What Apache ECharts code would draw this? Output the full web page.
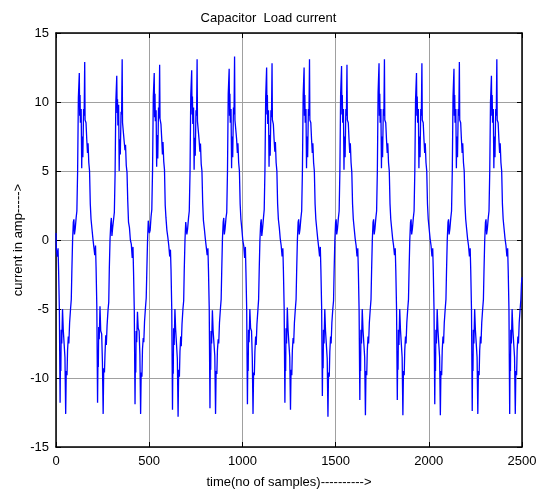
<!DOCTYPE html>
<html>
<head>
<meta charset="utf-8">
<script src="https://cdn.jsdelivr.net/npm/echarts@6/dist/echarts.min.js"></script>
<style>html,body{margin:0;padding:0;background:#fff}#c{width:537px;height:493px}</style>
</head>
<body>
<div id="c"></div>
<script>
const titleText = 'Capacitor  Load current';
const xName = 'time(no of samples)---------->';
const yName = 'current in amp----->';
const xTicks = [0, 500, 1000, 1500, 2000, 2500];
const yTicks = [-15, -10, -5, 0, 5, 10, 15];

// sample index
const sampleNo = [
0,
2,7,11,14,18,22,24,26,28,31,35,39,44,48,52,55,59,62,66,69,73,78,82,85,89,93,96,99,103,108,112,116,120,125,127,129,131,135,138,140,144,148,151,154,156,161,165,169,172,176,180,184,188,193,198,
203,208,212,215,219,223,225,227,229,232,236,240,245,249,253,256,260,263,267,270,274,279,283,286,290,294,297,300,304,309,313,317,321,326,328,330,332,336,339,341,345,349,352,355,357,362,366,370,373,377,381,385,389,394,399,
404,409,413,416,420,424,426,428,430,433,437,441,446,450,454,457,461,464,468,471,475,480,484,487,491,495,498,501,505,510,514,518,522,527,529,531,533,537,540,542,546,550,553,556,558,563,567,571,574,578,582,586,590,595,600,
605,610,614,617,621,625,627,629,631,634,638,642,647,651,655,658,662,665,669,672,676,681,685,688,692,696,699,702,706,711,715,719,723,728,730,732,734,738,741,743,747,751,754,757,759,764,768,772,775,779,783,787,791,796,801,
806,811,815,818,822,826,828,830,832,835,839,843,848,852,856,859,863,866,870,873,877,882,886,889,893,897,900,903,907,912,916,920,924,929,931,933,935,939,942,944,948,952,955,958,960,965,969,973,976,980,984,988,992,997,1002,
1007,1012,1016,1019,1023,1027,1029,1031,1033,1036,1040,1044,1049,1053,1057,1060,1064,1067,1071,1074,1078,1083,1087,1090,1094,1098,1101,1104,1108,1113,1117,1121,1125,1130,1132,1134,1136,1140,1143,1145,1149,1153,1156,1159,1161,1166,1170,1174,1177,1181,1185,1189,1193,1198,1203,
1208,1213,1217,1220,1224,1228,1230,1232,1234,1237,1241,1245,1250,1254,1258,1261,1265,1268,1272,1275,1279,1284,1288,1291,1295,1299,1302,1305,1309,1314,1318,1322,1326,1331,1333,1335,1337,1341,1344,1346,1350,1354,1357,1360,1362,1367,1371,1375,1378,1382,1386,1390,1394,1399,1404,
1409,1414,1418,1421,1425,1429,1431,1433,1435,1438,1442,1446,1451,1455,1459,1462,1466,1469,1473,1476,1480,1485,1489,1492,1496,1500,1503,1506,1510,1515,1519,1523,1527,1532,1534,1536,1538,1542,1545,1547,1551,1555,1558,1561,1563,1568,1572,1576,1579,1583,1587,1591,1595,1600,1605,
1610,1615,1619,1622,1626,1630,1632,1634,1636,1639,1643,1647,1652,1656,1660,1663,1667,1670,1674,1677,1681,1686,1690,1693,1697,1701,1704,1707,1711,1716,1720,1724,1728,1733,1735,1737,1739,1743,1746,1748,1752,1756,1759,1762,1764,1769,1773,1777,1780,1784,1788,1792,1796,1801,1806,
1811,1816,1820,1823,1827,1831,1833,1835,1837,1840,1844,1848,1853,1857,1861,1864,1868,1871,1875,1878,1882,1887,1891,1894,1898,1902,1905,1908,1912,1917,1921,1925,1929,1934,1936,1938,1940,1944,1947,1949,1953,1957,1960,1963,1965,1970,1974,1978,1981,1985,1989,1993,1997,2002,2007,
2012,2017,2021,2024,2028,2032,2034,2036,2038,2041,2045,2049,2054,2058,2062,2065,2069,2072,2076,2079,2083,2088,2092,2095,2099,2103,2106,2109,2113,2118,2122,2126,2130,2135,2137,2139,2141,2145,2148,2150,2154,2158,2161,2164,2166,2171,2175,2179,2182,2186,2190,2194,2198,2203,2208,
2213,2218,2222,2225,2229,2233,2235,2237,2239,2242,2246,2250,2255,2259,2263,2266,2270,2273,2277,2280,2284,2289,2293,2296,2300,2304,2307,2310,2314,2319,2323,2327,2331,2336,2338,2340,2342,2346,2349,2351,2355,2359,2362,2365,2367,2372,2376,2380,2383,2387,2391,2395,2399,2404,2409,
2414,2419,2423,2426,2430,2434,2436,2438,2440,2443,2447,2451,2456,2460,2464,2467,2471,2474,2478,2481,2485,2490,2494,2497,2500
];

// current in amp at each sample
const currentAmp = [
0.5,
-0.7,-1.2,-0.6,-2.2,-5.0,-11.8,-8.5,-9.5,-6.5,-7.5,-5.0,-6.5,-6.5,-8.5,-12.6,-9.5,-9.8,-8.0,-7.0,-7.5,-6.0,-5.0,-4.3,-2.3,0.0,1.3,1.5,0.4,0.8,1.6,2.1,5.0,10.3,12.1,9.0,10.5,8.5,9.5,5.2,7.5,6.0,9.5,9.0,12.9,8.7,8.5,7.3,6.3,7.0,5.6,5.0,2.6,1.5,0.8,0.1,
-0.5,-1.1,-0.4,-2.0,-4.8,-11.8,-8.8,-9.2,-6.3,-7.2,-4.8,-6.6,-6.8,-8.8,-12.6,-9.3,-9.6,-8.2,-6.9,-7.6,-6.2,-5.1,-4.5,-2.1,0.1,1.2,1.6,0.3,0.9,1.5,2.0,4.8,10.0,11.9,9.2,10.2,8.3,9.8,5.0,7.3,6.2,9.3,9.1,13.1,8.5,8.6,7.1,6.5,6.9,5.4,4.9,2.8,1.3,0.9,0.0,
-0.3,-1.3,-0.5,-2.3,-5.1,-11.9,-8.4,-9.6,-6.6,-7.4,-5.2,-6.4,-6.6,-8.3,-12.6,-9.6,-9.9,-7.9,-7.1,-7.4,-5.9,-4.9,-4.2,-2.4,-0.1,1.4,1.5,0.5,0.7,1.7,2.2,5.1,10.4,12.1,8.9,10.6,8.6,9.4,5.3,7.6,5.9,9.6,8.8,12.7,8.8,8.4,7.4,6.2,7.1,5.7,5.1,2.5,1.6,0.7,0.2,
-0.4,-1.2,-0.7,-2.1,-5.0,-12.3,-8.6,-9.7,-6.4,-7.6,-5.0,-6.5,-6.4,-8.6,-12.8,-9.4,-9.9,-8.1,-7.0,-7.7,-6.1,-5.0,-4.4,-2.2,0.0,1.3,1.4,0.4,0.8,1.6,2.1,4.9,10.5,12.3,9.1,10.4,8.4,9.6,5.1,7.4,6.1,9.4,9.0,13.1,8.6,8.5,7.2,6.4,7.0,5.5,5.0,2.7,1.4,0.8,0.1,
-0.5,-1.1,-0.6,-2.2,-4.9,-12.2,-8.5,-9.4,-6.6,-7.5,-5.1,-6.6,-6.5,-8.4,-12.6,-9.5,-9.7,-8.0,-7.2,-7.5,-6.0,-5.0,-4.3,-2.3,0.1,1.3,1.6,0.4,0.8,1.6,2.0,5.0,10.6,12.4,9.0,10.6,8.5,9.5,5.2,7.5,6.0,9.6,9.1,13.3,8.7,8.6,7.3,6.3,7.0,5.6,5.0,2.6,1.5,0.8,0.0,
-0.4,-1.3,-0.5,-2.3,-5.0,-11.9,-8.7,-9.5,-6.5,-7.4,-5.0,-6.4,-6.6,-8.5,-12.6,-9.6,-9.8,-8.1,-7.0,-7.6,-6.1,-5.1,-4.3,-2.3,0.0,1.2,1.5,0.3,0.8,1.6,2.2,5.1,10.4,12.5,9.1,10.5,8.4,9.4,5.3,7.6,6.1,9.4,8.9,12.8,8.7,8.4,7.3,6.4,7.1,5.6,5.0,2.6,1.5,0.9,0.1,
-0.4,-1.2,-0.6,-2.2,-4.9,-11.8,-8.5,-9.5,-6.4,-7.5,-4.9,-6.5,-6.5,-8.5,-12.3,-9.4,-9.8,-8.0,-7.1,-7.5,-6.0,-5.0,-4.3,-2.3,0.0,1.3,1.5,0.4,0.8,1.6,2.1,5.0,10.5,12.5,9.0,10.5,8.5,9.5,5.2,7.5,6.0,9.5,9.0,13.1,8.7,8.5,7.3,6.3,7.0,5.6,5.0,2.6,1.5,0.8,0.1,
-0.5,-1.2,-0.5,-2.1,-4.8,-11.3,-8.3,-9.3,-6.5,-7.5,-5.0,-6.6,-6.6,-8.6,-12.8,-9.6,-9.9,-8.1,-7.0,-7.5,-6.0,-5.0,-4.4,-2.3,0.0,1.3,1.5,0.4,0.8,1.6,2.1,5.0,10.6,12.6,9.1,10.5,8.5,9.5,5.1,7.5,6.0,9.5,9.0,12.7,8.7,8.5,7.3,6.3,7.0,5.6,4.9,2.6,1.5,0.8,0.1,
-0.4,-1.2,-0.6,-2.2,-5.0,-11.6,-8.5,-9.5,-6.5,-7.5,-5.0,-6.5,-6.5,-8.5,-12.7,-9.5,-9.8,-8.0,-7.0,-7.5,-6.0,-5.0,-4.3,-2.3,0.0,1.3,1.5,0.4,0.8,1.6,2.1,5.0,10.7,12.8,9.0,10.6,8.5,9.5,5.2,7.5,6.0,9.5,9.0,13.1,8.7,8.5,7.3,6.3,7.0,5.6,5.0,2.6,1.5,0.8,0.1,
-0.4,-1.1,-0.6,-2.2,-5.0,-11.6,-8.6,-9.4,-6.5,-7.6,-5.0,-6.5,-6.5,-8.5,-12.7,-9.5,-9.8,-8.0,-7.0,-7.5,-6.0,-5.0,-4.3,-2.3,0.0,1.3,1.5,0.4,0.8,1.6,2.1,5.0,10.2,12.1,9.0,10.4,8.5,9.5,5.2,7.5,6.0,9.5,9.0,12.8,8.7,8.5,7.3,6.3,7.0,5.6,5.0,2.6,1.5,0.8,0.1,
-0.4,-1.2,-0.6,-2.2,-5.0,-11.9,-8.5,-9.5,-6.5,-7.5,-5.0,-6.5,-6.5,-8.5,-12.7,-9.5,-9.8,-8.0,-7.0,-7.5,-6.0,-5.0,-4.3,-2.3,0.0,1.3,1.5,0.4,0.8,1.6,2.1,5.0,10.4,12.4,9.0,10.5,8.5,9.5,5.2,7.5,6.0,9.5,9.0,12.9,8.7,8.5,7.3,6.3,7.0,5.6,5.0,2.6,1.5,0.8,0.1,
-0.4,-1.2,-0.6,-2.2,-5.0,-12.4,-8.5,-9.5,-6.5,-7.5,-5.0,-6.5,-6.5,-8.5,-12.6,-9.5,-9.8,-8.0,-7.0,-7.5,-6.0,-5.0,-4.3,-2.3,0.0,1.3,1.5,0.4,0.8,1.6,2.1,5.0,10.0,11.9,9.0,10.5,8.5,9.5,5.2,7.5,6.0,9.5,9.0,13.1,8.7,8.5,7.3,6.3,7.0,5.6,5.0,2.6,1.5,0.8,0.1,
-0.4,-1.2,-0.6,-2.2,-5.0,-12.6,-8.5,-9.5,-6.5,-7.5,-5.0,-6.5,-6.5,-8.5,-12.6,-9.5,-9.8,-8.0,-7.0,-7.5,-6.0,-5.0,-4.3,-3.2,-2.7
];

const seriesData = sampleNo.map((x, i) => [x, currentAmp[i]]);

const font = "'Liberation Sans', Arial, sans-serif";
const frame = { show: true, onZero: false, lineStyle: { color: '#000', width: 1.5 } };
const tickIn = { show: true, inside: true, length: 5, lineStyle: { color: '#000', width: 1 } };
const grid = { show: true, lineStyle: { color: '#a0a0a0', width: 1 } };
const plain = v => String(v);

const chart = echarts.init(document.getElementById('c'), null, { renderer: 'canvas' });
chart.setOption({
  animation: false,
  backgroundColor: '#fff',
  title: {
    text: titleText, left: 'center', top: 7,
    textStyle: { fontFamily: font, fontSize: 13, fontWeight: 'normal', color: '#000' }
  },
  grid: { left: 56, right: 15, top: 33, bottom: 46, containLabel: false, outerBoundsMode: 'none' },
  xAxis: [{
    type: 'value', position: 'bottom', min: xTicks[0], max: xTicks[xTicks.length - 1], interval: 500,
    name: xName, nameLocation: 'middle', nameGap: 29,
    nameTextStyle: { fontFamily: font, fontSize: 13, color: '#000' },
    axisLine: frame, axisTick: tickIn,
    axisLabel: { margin: 8, fontFamily: font, fontSize: 13, color: '#000', formatter: plain },
    splitLine: grid
  }, {
    type: 'value', position: 'top', min: xTicks[0], max: xTicks[xTicks.length - 1], interval: 500,
    axisLine: frame, axisTick: tickIn, axisLabel: { show: false }, splitLine: { show: false }
  }],
  yAxis: [{
    type: 'value', position: 'left', min: yTicks[0], max: yTicks[yTicks.length - 1], interval: 5,
    name: yName, nameLocation: 'middle', nameGap: 31, nameRotate: 90, nameMoveOverlap: false,
    nameTextStyle: { fontFamily: font, fontSize: 13, color: '#000' },
    axisLine: frame, axisTick: tickIn,
    axisLabel: { margin: 7, fontFamily: font, fontSize: 13, color: '#000', formatter: plain },
    splitLine: grid
  }, {
    type: 'value', position: 'right', min: yTicks[0], max: yTicks[yTicks.length - 1], interval: 5,
    axisLine: frame, axisTick: tickIn, axisLabel: { show: false }, splitLine: { show: false }
  }],
  series: [{
    type: 'line', xAxisIndex: 0, yAxisIndex: 0,
    data: seriesData, showSymbol: false, symbol: 'none',
    lineStyle: { color: '#0000ff', width: 1.3 }, silent: true
  }]
});
</script>
</body>
</html>
